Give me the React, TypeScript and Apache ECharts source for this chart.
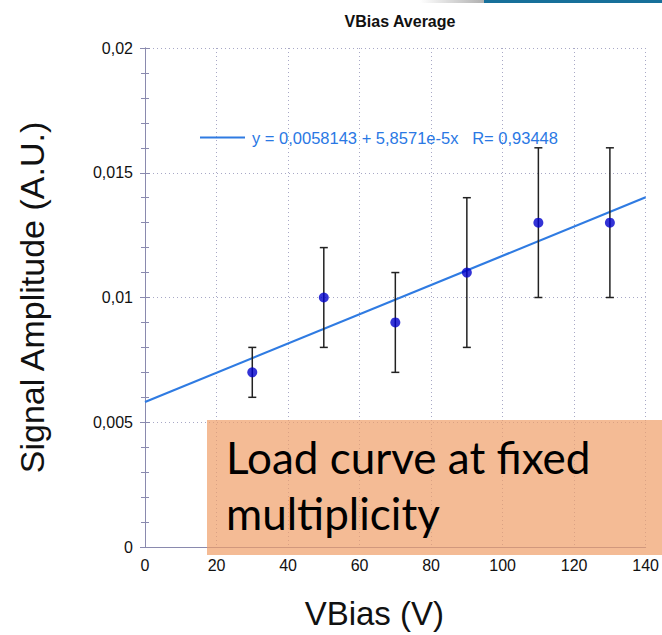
import React, { useEffect, useRef } from "react";
import * as echarts from "echarts";

const vbias = [30, 50, 70, 90, 110, 130];
const amplitude = [0.007, 0.01, 0.009, 0.011, 0.013, 0.013];
const errLow = [0.006, 0.008, 0.007, 0.008, 0.01, 0.01];
const errHigh = [0.008, 0.012, 0.011, 0.014, 0.016, 0.016];
const fitX = [0, 140];
const fitY = [0.0058143, 0.0140142];
const fitLabel = "y = 0,0058143 + 5,8571e-5x\u00a0\u00a0\u00a0R= 0,93448";
const yTicks = [0, 0.005, 0.01, 0.015, 0.02];
const xTicks = [0, 20, 40, 60, 80, 100, 120, 140];

const fmtY = (v: number) => String(v).replace(".", ",");

export default function App() {
  const ref = useRef<HTMLDivElement>(null);
  useEffect(() => {
    if (!ref.current) return;
    const chart = echarts.init(ref.current, undefined, { renderer: "svg" });
    const axisColor = "#8a8aae";
    const gridStyle = { type: [1, 3] as any, color: "#a8a8c6", width: 1 };
    const labelFont = { fontFamily: "Liberation Sans", fontSize: 16, color: "#111" };
    chart.setOption({
      animation: false,
      backgroundColor: "#fff",
      title: {
        text: "VBias Average",
        left: 395,
        textAlign: "center",
        top: 8,
        textStyle: { fontFamily: "Liberation Sans", fontSize: 16, fontWeight: "bold", color: "#111" },
      },
      legend: {
        left: 195,
        top: 124,
        itemWidth: 45,
        itemHeight: 2,
        itemGap: 6,
        data: [{ name: fitLabel, icon: "rect" }],
        textStyle: { fontFamily: "Liberation Sans", fontSize: 16.5, color: "#2a78e4", padding: [0, 0, 0, 2] },
      },
      grid: { left: 145, right: 16, top: 48, bottom: 87 },
      xAxis: [
        {
          type: "value",
          min: xTicks[0],
          max: xTicks[xTicks.length - 1],
          interval: 20,
          name: "VBias (V)",
          nameLocation: "middle",
          nameGap: 50,
          nameTextStyle: { fontFamily: "Liberation Sans", fontSize: 33, color: "#111", padding: [0, 42, 0, 0] },
          axisLine: { show: true, lineStyle: { color: axisColor } },
          axisTick: { show: false },
          axisLabel: { ...labelFont, margin: 10 },
          splitLine: { show: true, lineStyle: gridStyle },
        },
        {
          type: "value",
          position: "top",
          min: xTicks[0],
          max: xTicks[xTicks.length - 1],
          interval: 20,
          axisLine: { show: true, lineStyle: { color: axisColor } },
          axisTick: { show: false },
          axisLabel: { show: false },
          splitLine: { show: false },
        },
      ],
      yAxis: [
        {
          type: "value",
          min: yTicks[0],
          max: yTicks[yTicks.length - 1],
          interval: 0.005,
          name: "Signal Amplitude (A.U.)",
          nameLocation: "middle",
          nameGap: 96,
          nameTextStyle: { fontFamily: "Liberation Sans", fontSize: 34, color: "#111" },
          axisLine: { show: true, lineStyle: { color: axisColor } },
          axisTick: { show: true, inside: true, length: 5, lineStyle: { color: axisColor } },
          minorTick: { show: true, splitNumber: 5, length: 4, lineStyle: { color: axisColor } },
          axisLabel: { ...labelFont, margin: 12, formatter: fmtY },
          splitLine: { show: true, lineStyle: gridStyle },
        },
        {
          type: "value",
          position: "right",
          min: yTicks[0],
          max: yTicks[yTicks.length - 1],
          interval: 0.005,
          axisLine: { show: true, lineStyle: { color: axisColor } },
          axisTick: { show: true, inside: true, length: 5, lineStyle: { color: axisColor } },
          minorTick: { show: true, splitNumber: 5, length: 4, lineStyle: { color: axisColor } },
          axisLabel: { show: false },
          splitLine: { show: false },
        },
      ],
      series: [
        {
          name: fitLabel,
          type: "line",
          data: fitX.map((x, i) => [x, fitY[i]]),
          symbol: "none",
          lineStyle: { color: "#2f7be2", width: 2.2 },
          itemStyle: { color: "#2f7be2" },
          z: 3,
        },
        {
          type: "custom",
          name: "err",
          data: vbias.map((x, i) => [x, errLow[i], errHigh[i]]),
          renderItem: (params: any, api: any) => {
            const x = api.value(0);
            const lo = api.coord([x, api.value(1)]);
            const hi = api.coord([x, api.value(2)]);
            const cw = 4;
            const st = { stroke: "#222", lineWidth: 1.5 };
            return {
              type: "group",
              children: [
                { type: "line", shape: { x1: lo[0], y1: lo[1], x2: hi[0], y2: hi[1] }, style: st },
                { type: "line", shape: { x1: lo[0] - cw, y1: lo[1], x2: lo[0] + cw, y2: lo[1] }, style: st },
                { type: "line", shape: { x1: hi[0] - cw, y1: hi[1], x2: hi[0] + cw, y2: hi[1] }, style: st },
              ],
            };
          },
          z: 4,
        },
        {
          type: "scatter",
          name: "pts",
          data: vbias.map((x, i) => [x, amplitude[i]]),
          symbol: "circle",
          symbolSize: 10,
          itemStyle: { color: "#0000cc" },
          z: 5,
        },
      ],
      graphic: [
        {
          type: "rect",
          shape: { x: 420, y: 0, width: 64, height: 3 },
          style: {
            fill: new echarts.graphic.LinearGradient(0, 0, 1, 0, [
              { offset: 0, color: "#ffffff" },
              { offset: 1, color: "#b0b0b0" },
            ]),
          },
          z: 100,
        },
        {
          type: "rect",
          shape: { x: 484, y: 0, width: 178, height: 3 },
          style: { fill: "#17709a" },
          z: 100,
        },
        {
          type: "rect",
          shape: { x: 207, y: 420, width: 460, height: 135 },
          style: { fill: "rgba(239,158,104,0.7)" },
          z: 100,
        },
        {
          type: "text",
          x: 226,
          y: 429,
          style: {
            text: "Load curve at fixed\nmultiplicity",
            fontFamily: "Lato",
            fontSize: 44,
            lineHeight: 56,
            fill: "#000",
          },
          z: 101,
        },
      ],
    });
    return () => chart.dispose();
  }, []);
  return <div ref={ref} style={{ width: 662, height: 635, position: "absolute", left: 0, top: 0 }} />;
}
